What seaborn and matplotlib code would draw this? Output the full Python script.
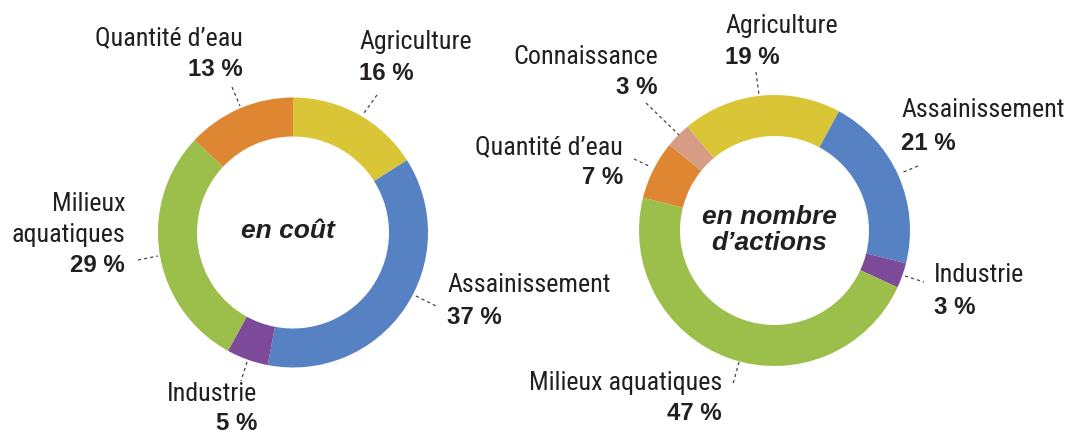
import matplotlib
matplotlib.use("Agg")
import matplotlib.pyplot as plt
import seaborn as sns
from matplotlib import font_manager

# ---- data ----
cats_cout = ["Agriculture", "Assainissement", "Industrie", "Milieux aquatiques", "Quantité d’eau"]
vals_cout = [16, 37, 5, 29, 13]
cats_actions = ["Agriculture", "Assainissement", "Industrie", "Milieux aquatiques", "Quantité d’eau", "Connaissance"]
vals_actions = [19, 21, 3, 47, 7, 3]

palette = {
    "Agriculture": "#DAC536",
    "Assainissement": "#5682C4",
    "Industrie": "#7D4A99",
    "Milieux aquatiques": "#9CBE4A",
    "Quantité d’eau": "#DE8632",
    "Connaissance": "#D69C84",
}

sns.set_theme(style="white")
names = {f.name for f in font_manager.fontManager.ttflist}
narrow = next((n for n in ["Roboto Condensed", "Archivo Narrow", "PT Sans Narrow"] if n in names), "DejaVu Sans")
plt.rcParams["font.family"] = ["Liberation Sans", "DejaVu Sans"]

W, H = 1069, 434
fig = plt.figure(figsize=(W / 100, H / 100), dpi=100)
ax = fig.add_axes([0, 0, 1, 1])
TXT = "#231F20"


def Y(y):
    return H - y


def donut(cats, vals, cx, cy, R, w, start):
    cols = sns.color_palette([palette[c] for c in cats])
    ax.pie(vals, colors=cols, startangle=start, counterclock=False, radius=R,
           center=(cx, Y(cy)), wedgeprops=dict(width=w, edgecolor="none"))


donut(cats_cout, vals_cout, 293, 232.5, 135, 39, 90)
donut(cats_actions, vals_actions, 774.5, 230.5, 135.5, 41, 130)

ax.set_xlim(0, W)
ax.set_ylim(0, H)
ax.set_aspect("equal")
ax.axis("off")


def label(name_lines, pct, x, y, ha, line_h=30):
    for i, t in enumerate(name_lines):
        ax.text(x, Y(y + i * line_h), t, ha=ha, va="center", fontsize=18.7,
                family=[narrow, "DejaVu Sans"], color=TXT)
    ax.text(x, Y(y + len(name_lines) * line_h), pct, ha=ha, va="center",
            fontsize=17.3, fontweight="bold", color=TXT)


def leader(x0, y0, x1, y1):
    ax.plot([x0, x1], [Y(y0), Y(y1)], color="#444444", lw=0.9, ls=(0, (2.5, 2.5)))


# left donut labels
label(["Quantité d’eau"], f"{vals_cout[4]} %", 243, 38, "right", 31)
leader(232, 87, 240, 106)
label(["Agriculture"], f"{vals_cout[0]} %", 359, 42, "left", 32)
leader(377, 95, 364, 113)
label(["Milieux", "aquatiques"], f"{vals_cout[3]} %", 125, 204, "right", 31)
leader(138, 260, 158, 256)
label(["Assainissement"], f"{vals_cout[1]} %", 447, 285, "left", 32)
leader(416, 296, 436, 306)
label(["Industrie"], f"{vals_cout[2]} %", 257, 394, "right", 30)
leader(247, 362, 241, 381)
ax.text(288, Y(231), "en coût", ha="center", va="center", fontsize=19,
        fontweight="bold", fontstyle="italic", color=TXT)

# right donut labels
label(["Connaissance"], f"{vals_actions[5]} %", 658, 57, "right", 31)
leader(646, 103, 679, 135)
label(["Agriculture"], f"{vals_actions[0]} %", 725, 26, "left", 32)
leader(756, 72, 759, 95)
label(["Assainissement"], f"{vals_actions[1]} %", 901, 110, "left", 33)
leader(918, 166, 901, 173)
label(["Quantité d’eau"], f"{vals_actions[4]} %", 623, 147, "right", 31)
leader(634, 159, 651, 167)
label(["Industrie"], f"{vals_actions[2]} %", 934, 275, "left", 33)
leader(905, 276, 924, 282)
label(["Milieux aquatiques"], f"{vals_actions[3]} %", 722, 383, "right", 31)
leader(739, 362, 733, 384)
ax.text(769, Y(217), "en nombre", ha="center", va="center", fontsize=19,
        fontweight="bold", fontstyle="italic", color=TXT)
ax.text(769, Y(243), "d’actions", ha="center", va="center", fontsize=19,
        fontweight="bold", fontstyle="italic", color=TXT)

fig.savefig("out.png", dpi=100, facecolor="white")
